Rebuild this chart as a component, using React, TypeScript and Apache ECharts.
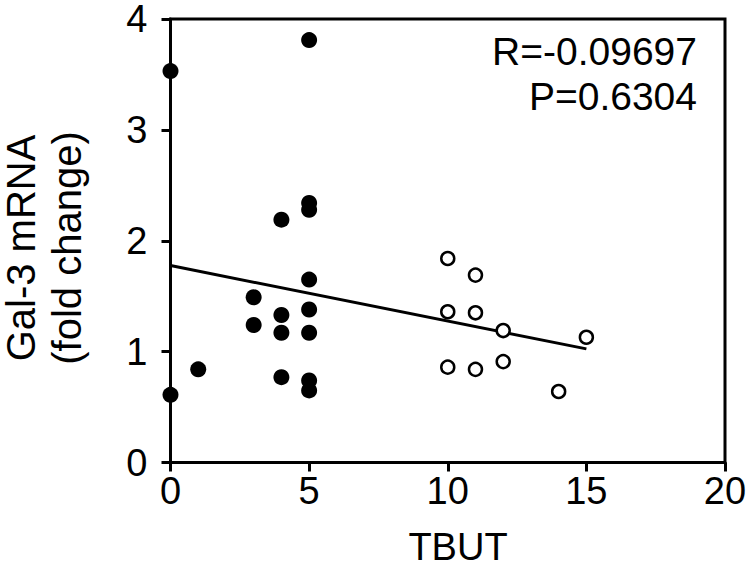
import React, { useEffect, useRef } from "react";
import * as echarts from "echarts";

const xTicks = [0, 5, 10, 15, 20];
const yTicks = [0, 1, 2, 3, 4];

// Filled circles (low TBUT group)
const filledX = [0, 0, 1, 3, 3, 4, 4, 4, 4, 5, 5, 5, 5, 5, 5, 5, 5];
const filledY = [3.53, 0.61, 0.84, 1.49, 1.24, 2.19, 1.33, 1.17, 0.77, 3.81, 2.34, 2.28, 1.65, 1.38, 1.17, 0.74, 0.65];

// Open circles (high TBUT group)
const openX = [10, 11, 10, 11, 12, 15, 10, 11, 12, 14];
const openY = [1.84, 1.69, 1.36, 1.35, 1.19, 1.13, 0.86, 0.84, 0.91, 0.64];

// Regression line end points
const fitX = [0, 15];
const fitY = [1.776, 1.025];

const statR = "R=-0.09697";
const statP = "P=0.6304";
const xTitle = "TBUT";
const yTitle1 = "Gal-3 mRNA";
const yTitle2 = "(fold change)";

const FONT = "'Liberation Sans', Arial, Helvetica, sans-serif";

export default function App() {
  const ref = useRef<HTMLDivElement>(null);
  useEffect(() => {
    if (!ref.current) return;
    const chart = echarts.init(ref.current, null, { renderer: "svg" });
    const axisStyle = { color: "#000", width: 3 };
    chart.setOption({
      animation: false,
      backgroundColor: "#fff",
      grid: {
        left: 170.5,
        right: 25,
        top: 16,
        bottom: 105.5,
        show: true,
        borderColor: "#000",
        borderWidth: 3,
        backgroundColor: "transparent",
      },
      xAxis: {
        type: "value",
        min: 0,
        max: 20,
        interval: 5,
        axisLine: { show: true, lineStyle: axisStyle },
        axisTick: { show: true, length: 9, lineStyle: axisStyle, inside: false },
        axisLabel: {
          color: "#000",
          fontSize: 38,
          fontFamily: FONT,
          margin: 9,
          formatter: (v: number) => (xTicks.includes(v) ? String(v) : ""),
        },
        splitLine: { show: false },
      },
      yAxis: {
        type: "value",
        min: 0,
        max: 4,
        interval: 1,
        axisLine: { show: true, lineStyle: axisStyle },
        axisTick: { show: true, length: 9, lineStyle: axisStyle, inside: false },
        axisLabel: {
          color: "#000",
          fontSize: 38,
          lineHeight: 30,
          fontFamily: FONT,
          margin: 23,
          formatter: (v: number) => (yTicks.includes(v) ? String(v) : ""),
        },
        splitLine: { show: false },
      },
      series: [
        {
          type: "line",
          data: fitX.map((x, i) => [x, fitY[i]]),
          symbol: "none",
          lineStyle: { color: "#000", width: 3 },
          z: 1,
        },
        {
          type: "scatter",
          data: filledX.map((x, i) => [x, filledY[i]]),
          symbol: "circle",
          symbolSize: 16,
          itemStyle: { color: "#000", opacity: 1 },
          z: 3,
        },
        {
          type: "scatter",
          data: openX.map((x, i) => [x, openY[i]]),
          symbol: "circle",
          symbolSize: 13,
          itemStyle: { color: "#fff", borderColor: "#000", borderWidth: 2.5, opacity: 1 },
          z: 3,
        },
      ],
      graphic: [
        {
          type: "text",
          x: 697,
          y: 51,
          style: {
            text: statR,
            fill: "#000",
            font: `39px ${FONT}`,
            textAlign: "right",
            textVerticalAlign: "middle",
          },
        },
        {
          type: "text",
          x: 697,
          y: 96,
          style: {
            text: statP,
            fill: "#000",
            font: `39px ${FONT}`,
            textAlign: "right",
            textVerticalAlign: "middle",
          },
        },
        {
          type: "text",
          x: 458,
          y: 547,
          style: {
            text: xTitle,
            fill: "#000",
            font: `38px ${FONT}`,
            textAlign: "center",
            textVerticalAlign: "middle",
          },
        },
        {
          type: "text",
          x: 21,
          y: 248,
          rotation: Math.PI / 2,
          style: {
            text: yTitle1,
            fill: "#000",
            font: `40px ${FONT}`,
            textAlign: "center",
            textVerticalAlign: "middle",
          },
        },
        {
          type: "text",
          x: 67,
          y: 248,
          rotation: Math.PI / 2,
          style: {
            text: yTitle2,
            fill: "#000",
            font: `40px ${FONT}`,
            textAlign: "center",
            textVerticalAlign: "middle",
          },
        },
      ],
    });
    return () => chart.dispose();
  }, []);
  return <div ref={ref} style={{ width: 750, height: 568, position: "absolute", left: 0, top: 0 }} />;
}
